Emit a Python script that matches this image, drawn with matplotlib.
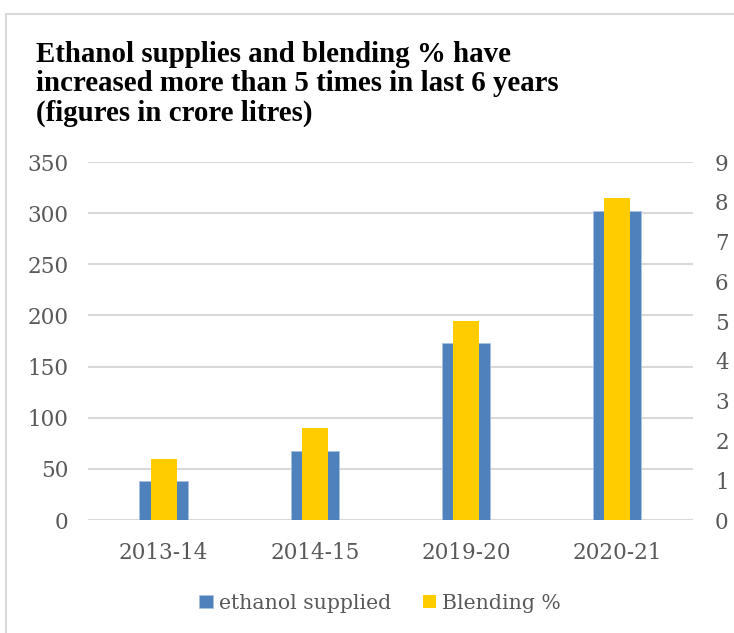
import matplotlib
matplotlib.use("Agg")
import matplotlib.pyplot as plt
import numpy as np
from matplotlib.patches import Rectangle

categories = ["2013-14", "2014-15", "2019-20", "2020-21"]
ethanol_supplied = [38, 67, 173, 302]
blending_pct = [1.53, 2.32, 5.0, 8.1]
left_ticks = [0, 50, 100, 150, 200, 250, 300, 350]
right_ticks = [0, 1, 2, 3, 4, 5, 6, 7, 8, 9]

blue = "#4f81bd"
yellow = "#ffcc00"
grid_c = "#d9d9d9"
text_c = "#595959"

fig = plt.figure(figsize=(7.34, 6.33), dpi=100)
ax = fig.add_axes([0.12, 0.1785, 0.824, 0.5655])
ax2 = ax.twinx()

x = np.arange(len(categories))
ax.bar(x, ethanol_supplied, width=0.32, color=blue, edgecolor="#a9c1e0", linewidth=0.6, zorder=2, label="ethanol supplied")
ax2.bar(x, blending_pct, width=0.17, color=yellow, zorder=3, label="Blending %")

ax.set_xlim(-0.5, len(categories) - 0.5)
ax.set_ylim(0, 350)
ax2.set_ylim(0, 9)
ax.set_yticks(left_ticks)
ax2.set_yticks(right_ticks)
ax.set_xticks(x)
ax.set_xticklabels(categories)

for a in (ax, ax2):
    for s in a.spines.values():
        s.set_visible(False)
    a.tick_params(length=0, labelsize=15.5, labelcolor=text_c, pad=8)
    for lab in a.get_xticklabels() + a.get_yticklabels():
        lab.set_fontfamily("DejaVu Serif")
ax.tick_params(axis="y", pad=14)
ax2.tick_params(axis="y", pad=16)
ax.tick_params(axis="x", pad=16)
ax.yaxis.grid(True, color=grid_c, linewidth=1.5, zorder=0)
ax.set_axisbelow(True)

fig.text(0.049, 0.935, "Ethanol supplies and blending % have\nincreased more than 5 times in last 6 years\n(figures in crore litres)",
         ha="left", va="top", fontsize=20.75, fontweight="bold", family="Liberation Serif", linespacing=1.11, color="black")

h1, l1 = ax.get_legend_handles_labels()
h2, l2 = ax2.get_legend_handles_labels()
leg = fig.legend(h1 + h2, l1 + l2, loc="center", bbox_to_anchor=(0.518, 0.047), ncol=2, frameon=False,
                 prop={"family": "DejaVu Serif", "size": 14.7}, handlelength=0.65, handleheight=0.65,
                 handletextpad=0.3, columnspacing=1.55, labelcolor=text_c)

fig.patches.append(Rectangle((0.008, -0.01), 1.1, 0.988, transform=fig.transFigure, fill=False,
                             edgecolor="#d9d9d9", linewidth=1.5))

fig.savefig("out.png", dpi=100)
